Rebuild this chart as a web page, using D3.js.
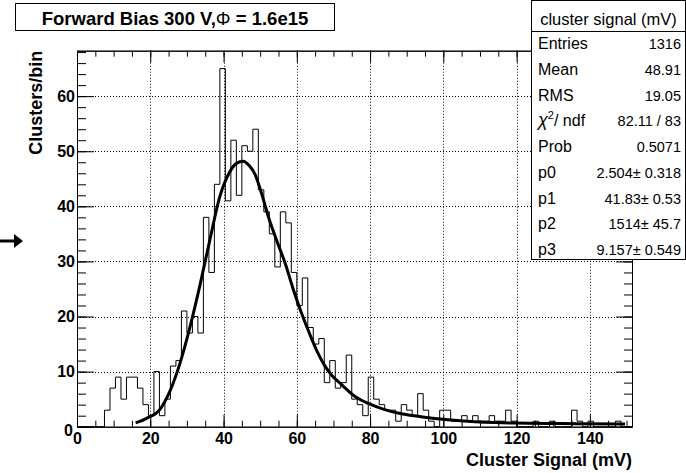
<!DOCTYPE html>
<html><head><meta charset="utf-8">
<script src="https://cdn.jsdelivr.net/npm/d3@7"></script>
<style>body{margin:0;background:#fff}svg{display:block}</style>
</head><body><svg id="c" width="686" height="473"></svg>
<script>
// ---- data ----
const binWidth = 1.5;
const binCounts = [0,0,0,0,0,3,7,9,5,9,9,7,4,2,10,2,5,11,12,21,17,20,17,38,28,44,65,41,52,42,51,50,54,43,39,35,29,39,37,28,22,27,18,15,16,8,12,7,8,13,5,4,2,9,5,4,3,3,1,4,3,2,6,3,1,0,3,3,1,1,2,1,2,1,1,2,1,1,3,1,0,0,0,1,0,0,1,0,0,0,3,1,0,1,0,0,0,0,1,0,0];
const fitX = [16,19,22.7,25.4,28.1,30.8,33.6,36.3,39,41.5,43.5,45.4,47,48.6,50.4,52.2,54.5,56.8,59,61.3,63.6,65.6,67.7,69.7,71.8,75.9,80,84,88.2,93,97.7,103,108.7,114,119.6,128,136.4,149.6];
const fitY = [0.7,1.5,3.2,6.5,11.5,18,25.8,34,41.8,46,47.8,48.2,47.4,45.8,42.3,38.2,33.8,29.7,25,20.6,16.7,13.6,11,9.2,7.9,5.5,4.1,3.1,2.4,1.9,1.5,1.15,0.9,0.75,0.65,0.6,0.55,0.5];
const xTickValues = [0,20,40,60,80,100,120,140];
const yTickValues = [0,10,20,30,40,50,60];
const titleText = "Forward Bias 300 V,";
const titleSymbol = "\u03A6";
const titleRest = " = 1.6e15";
const statsHeader = "cluster signal (mV)";
const statsLabels = ["Entries","Mean","RMS","CHI","Prob","p0","p1","p2","p3"];
const statsValues = ["1316","48.91","19.05","82.11 / 83","0.5071","2.504\u00B1 0.318","41.83\u00B1 0.53","1514\u00B1 45.7","9.157\u00B1 0.549"];
const xTitle = "Cluster Signal (mV)";
const yTitle = "Clusters/bin";

// ---- layout ----
const L = 77, R = 632, T = 50.7, B = 426.7;
const xMax = binWidth * binCounts.length;
const yMax = 68.25;
const svg = d3.select("#c");
const x = d3.scaleLinear().domain([0, xMax]).range([L, R]);
const y = d3.scaleLinear().domain([0, yMax]).range([B, T]);
const font = "'Liberation Sans', Arial, Helvetica, sans-serif";

// grid
const g = svg.append("g");
g.selectAll("line.gx").data(xTickValues.filter(v => v > 0)).join("line")
  .attr("x1", d => Math.round(x(d)) + 0.5).attr("x2", d => Math.round(x(d)) + 0.5)
  .attr("y1", T).attr("y2", B)
  .attr("stroke", "#000").attr("stroke-width", 1).attr("stroke-dasharray", "1,2");
g.selectAll("line.gy").data(yTickValues.filter(v => v > 0)).join("line")
  .attr("y1", d => Math.round(y(d)) + 0.5).attr("y2", d => Math.round(y(d)) + 0.5)
  .attr("x1", L).attr("x2", R)
  .attr("stroke", "#000").attr("stroke-width", 1).attr("stroke-dasharray", "1,2");

// histogram step outline
const pts = binCounts.map((c, i) => [i * binWidth, c]);
pts.push([xMax, binCounts[binCounts.length - 1]]);
const step = d3.line().x(d => x(d[0])).y(d => y(d[1])).curve(d3.curveStepAfter);
svg.append("path").attr("d", step(pts)).attr("fill", "none")
  .attr("stroke", "#000").attr("stroke-width", 1);

// fit curve
const fitPts = fitX.map((v, i) => [v, fitY[i]]);
svg.append("path").attr("d", d3.line().x(d => x(d[0])).y(d => y(d[1])).curve(d3.curveMonotoneX)(fitPts))
  .attr("fill", "none").attr("stroke", "#000").attr("stroke-width", 3).attr("stroke-linejoin", "round");

// axes (ticks on all sides)
const minorX = d3.range(0, xMax, 5);
const minorY = d3.range(0, yMax, 2);
function styleAxis(sel) {
  sel.select(".domain").attr("stroke", "#000");
  sel.selectAll(".tick line").attr("stroke", "#000");
  sel.selectAll("text").attr("font-family", font).attr("font-weight", "bold").attr("font-size", 16).attr("fill", "#000");
}
// bottom
svg.append("g").attr("transform", `translate(0,${B})`)
  .call(d3.axisBottom(x).tickValues(minorX).tickSize(-6).tickFormat("").tickSizeOuter(0))
  .call(styleAxis);
svg.append("g").attr("transform", `translate(0,${B})`)
  .call(d3.axisBottom(x).tickValues(xTickValues).tickSize(-12).tickPadding(6).tickSizeOuter(0))
  .call(styleAxis);
// top
svg.append("g").attr("transform", `translate(0,${T})`)
  .call(d3.axisTop(x).tickValues(minorX).tickSize(-6).tickFormat("").tickSizeOuter(0)).call(styleAxis);
svg.append("g").attr("transform", `translate(0,${T})`)
  .call(d3.axisTop(x).tickValues(xTickValues).tickSize(-12).tickFormat("").tickSizeOuter(0)).call(styleAxis);
// left
svg.append("g").attr("transform", `translate(${L},0)`)
  .call(d3.axisLeft(y).tickValues(minorY).tickSize(-9).tickFormat("").tickSizeOuter(0)).call(styleAxis);
const yAx = svg.append("g").attr("transform", `translate(${L},0)`)
  .call(d3.axisLeft(y).tickValues(yTickValues).tickSize(-17).tickPadding(2).tickSizeOuter(0)).call(styleAxis);
yAx.selectAll(".tick").filter(d => d === 0).select("text").attr("dy", "0.55em").attr("x", -4);
// right
svg.append("g").attr("transform", `translate(${R},0)`)
  .call(d3.axisRight(y).tickValues(minorY).tickSize(-8).tickFormat("").tickSizeOuter(0)).call(styleAxis);
svg.append("g").attr("transform", `translate(${R},0)`)
  .call(d3.axisRight(y).tickValues(yTickValues).tickSize(-16).tickFormat("").tickSizeOuter(0)).call(styleAxis);

// axis titles
svg.append("text").attr("x", R).attr("y", 466).attr("text-anchor", "end")
  .attr("font-family", font).attr("font-weight", "bold").attr("font-size", 18).text(xTitle);
svg.append("text").attr("transform", `translate(41.5,${T}) rotate(-90)`).attr("text-anchor", "end")
  .attr("font-family", font).attr("font-weight", "bold").attr("font-size", 18).text(yTitle);

// title box
svg.append("rect").attr("x", 15.5).attr("y", 3.5).attr("width", 319).attr("height", 27)
  .attr("fill", "#fff").attr("stroke", "#000");
const tt = svg.append("text").attr("x", 175).attr("y", 25).attr("text-anchor", "middle")
  .attr("font-family", font).attr("font-weight", "bold").attr("font-size", 18.5);
tt.append("tspan").text(titleText);
tt.append("tspan").attr("font-weight", "normal").text(titleSymbol);
tt.append("tspan").text(titleRest);

// stats box
const sx = 531.5, sy = 0.5, sw = 154, sh = 259;
svg.append("rect").attr("x", sx).attr("y", sy).attr("width", sw).attr("height", sh)
  .attr("fill", "#fff").attr("stroke", "#000");
svg.append("line").attr("x1", sx).attr("x2", sx + sw).attr("y1", 31.5).attr("y2", 31.5).attr("stroke", "#000");
svg.append("text").attr("x", sx + sw / 2).attr("y", 25).attr("text-anchor", "middle")
  .attr("font-family", font).attr("font-size", 16.5).text(statsHeader);
const rowY = d3.scaleLinear().domain([0, statsLabels.length - 1]).range([49, 255]);
statsLabels.forEach((lab, i) => {
  const t = svg.append("text").attr("x", 538).attr("y", rowY(i))
    .attr("font-family", font).attr("font-size", 16);
  if (lab === "CHI") {
    t.append("tspan").attr("font-style", "italic").attr("font-size", 18).text("\u03C7");
    t.append("tspan").attr("font-size", 11).attr("dy", -7).text("2");
    t.append("tspan").attr("dy", 7).text("/ ndf");
  } else t.text(lab);
  svg.append("text").attr("x", 681).attr("y", rowY(i)).attr("text-anchor", "end")
    .attr("font-family", font).attr("font-size", 14.5).text(statsValues[i]);
});

// arrow on left
svg.append("line").attr("x1", 0).attr("x2", 15).attr("y1", 241).attr("y2", 241).attr("stroke", "#000").attr("stroke-width", 3);
svg.append("path").attr("d", "M14,234 L23,241 L14,248 Z").attr("fill", "#000");
</script></body></html>
